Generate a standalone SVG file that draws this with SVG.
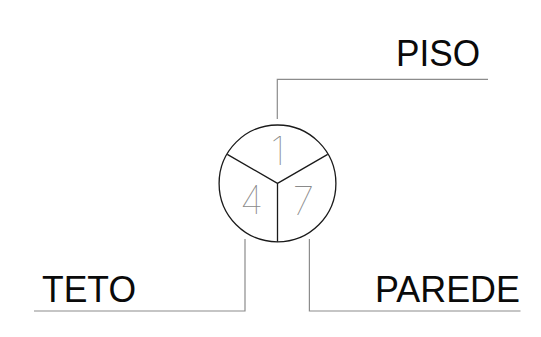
<svg xmlns="http://www.w3.org/2000/svg" width="541" height="337" viewBox="0 0 541 337">
<style>
.conn{fill:none;stroke:#8c8c8c;stroke-width:1.2}
.sym{fill:none;stroke:#1a1a1a;stroke-width:1.3}
.lbl{font-family:"Liberation Sans",Arial,sans-serif;font-size:37.5px;fill:#0a0a0a}
.num{font-family:Inter,"Open Sans",sans-serif;font-weight:100;font-size:39px;fill:#8a8a8a;text-anchor:middle}
</style>
<rect width="541" height="337" fill="#fff"/>
<g id="connectors">
<path class="conn" d="M277.3 119V79.4H488"/>
<path class="conn" d="M245 239V311H34"/>
<path class="conn" d="M309.4 239V311H520.5"/>
</g>
<g id="symbol">
<circle class="sym" cx="277.5" cy="183.4" r="58.4"/>
<path class="sym" d="M277.5 183.4L227.3 154.4M277.5 183.4L327.7 154.4M277.5 183.4V241.8"/>
<text class="num" x="278" y="164.5">1</text>
<text class="num" x="251.5" y="213.5">4</text>
<text class="num" x="303.5" y="215">7</text>
</g>
<g id="piso"><text class="lbl" x="396" y="66" textLength="84" lengthAdjust="spacingAndGlyphs">PISO</text></g>
<g id="teto"><text class="lbl" x="42" y="302" textLength="94" lengthAdjust="spacingAndGlyphs">TETO</text></g>
<g id="parede"><text class="lbl" x="375" y="302" textLength="145" lengthAdjust="spacingAndGlyphs">PAREDE</text></g>
</svg>
